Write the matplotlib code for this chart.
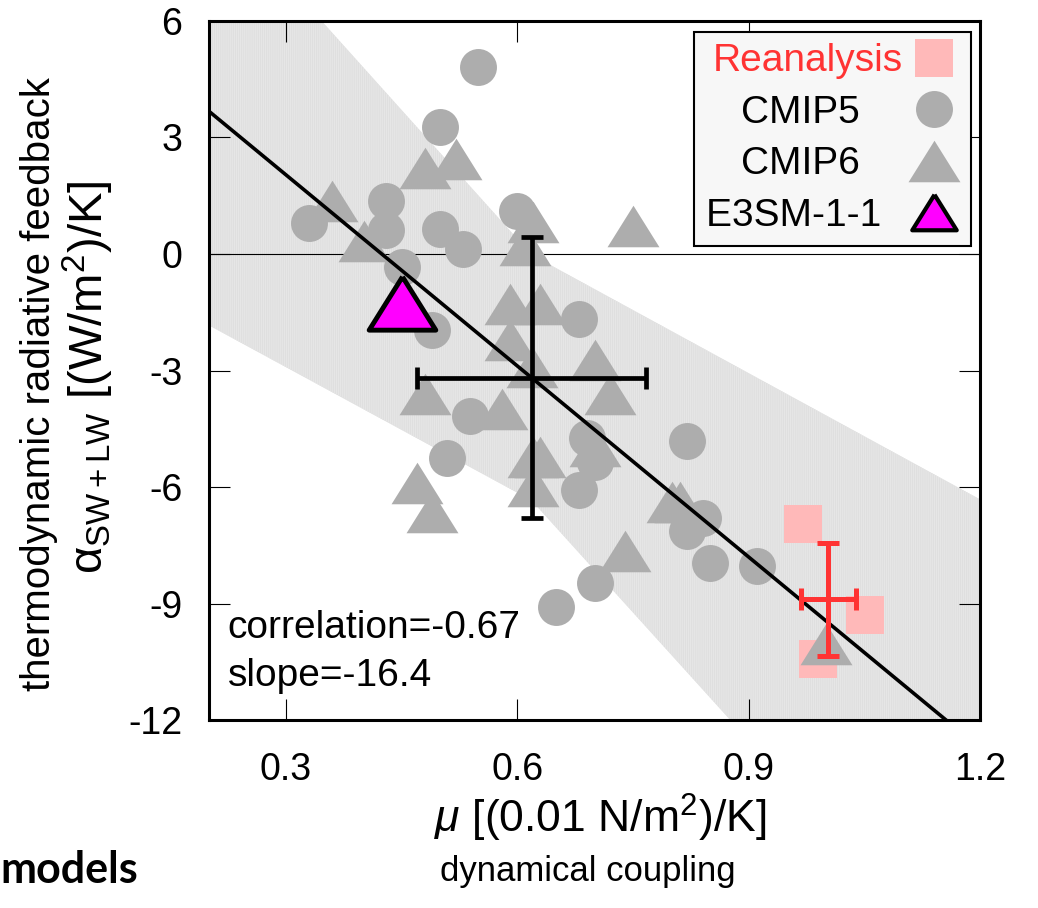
import numpy as np
import matplotlib
matplotlib.use("Agg")
import matplotlib.pyplot as plt
from matplotlib.lines import Line2D
from matplotlib.markers import MarkerStyle

plt.rcParams["font.family"] = ["Liberation Sans", "DejaVu Sans"]
plt.rcParams["mathtext.fontset"] = "custom"
plt.rcParams["mathtext.rm"] = "Liberation Sans"
plt.rcParams["mathtext.it"] = "Liberation Sans:italic"
plt.rcParams["axes.unicode_minus"] = False
plt.rcParams["hatch.linewidth"] = 1.0

# CMIP5 models (circles): mu, alpha
cmip5_mu = [0.549, 0.500, 0.430, 0.330, 0.430, 0.500, 0.530, 0.600, 0.450,
            0.489, 0.680, 0.539, 0.509, 0.690, 0.701, 0.680, 0.701, 0.650,
            0.820, 0.841, 0.820, 0.850, 0.910]
cmip5_alpha = [4.80, 3.26, 1.36, 0.80, 0.62, 0.63, 0.12, 1.11, -0.33,
               -1.95, -1.68, -4.16, -5.25, -4.74, -5.34, -6.07, -8.47, -9.07,
               -4.80, -6.80, -7.12, -7.94, -8.02]

# CMIP6 models (triangles)
cmip6_mu = [0.360, 0.401, 0.480, 0.521, 0.620, 0.610, 0.750, 0.590, 0.630,
            0.590, 0.619, 0.701, 0.480, 0.720, 0.580, 0.620, 0.629, 0.701,
            0.620, 0.470, 0.490, 0.800, 0.811, 0.740, 1.000]
cmip6_alpha = [1.37, 0.34, 2.22, 2.45, 0.83, 0.23, 0.73, -1.29, -1.29,
               -2.22, -2.92, -2.74, -3.60, -3.60, -3.98, -5.22, -5.22, -4.95,
               -5.98, -5.90, -6.63, -6.38, -6.38, -7.65, -10.03]

# E3SM-1-1
e3sm_mu = [0.450]
e3sm_alpha = [-1.25]

# Reanalysis (squares) and their mean +/- spread
rean_mu = [0.970, 1.050, 0.990]
rean_alpha = [-6.94, -9.28, -10.43]
rean_mean = (1.003, -8.88)
rean_err = (0.036, 1.45)

# multi-model mean +/- spread
mmm_mean = (0.6185, -3.18)
mmm_err = (0.148, 3.62)

# regression fit and its uncertainty band (edges)
reg_slope = -16.4
reg_intercept = 6.96
reg_r = -0.67
band_x = [0.2, 0.6185, 1.2]
band_upper = [9.23, -0.02, -6.32]
band_lower = [-1.83, -6.34, -19.1]

legend_labels = ["Reanalysis", "CMIP5    ", "CMIP6    ", "E3SM-1-1  "]

GRAY = "#adadad"
PINK = "#ffb9b9"
RED = "#ff3333"

tri = MarkerStyle([(0, 0.8), (-1, -0.8), (1, -0.8), (0, 0.8)], joinstyle="miter")

fig = plt.figure(figsize=(10.38, 9.08), dpi=100)
ax = fig.add_axes([0.2009, 0.2065, 0.7437, 0.7707])

ax.fill_between(band_x, band_lower, band_upper, facecolor="#dcdcdc",
                edgecolor="#e6e6e6", hatch="||||||||", linewidth=0, zorder=1)
ax.axhline(0, color="k", lw=0.8, zorder=2)

ax.plot(rean_mu, rean_alpha, ls="none", marker="s", ms=27, mfc=PINK, mew=0, zorder=3)
ax.plot(cmip5_mu, cmip5_alpha, ls="none", marker="o", ms=26.6, mfc=GRAY, mew=0, zorder=4)
ax.plot(cmip6_mu, cmip6_alpha, ls="none", marker=tri, ms=37.4, mfc=GRAY, mew=0, zorder=5)

xfit = np.array([0.2, 1.2])
ax.plot(xfit, reg_intercept + reg_slope * xfit, color="k", lw=2.6, zorder=6)

ax.plot(e3sm_mu, e3sm_alpha, ls="none", marker=tri, ms=48, mfc="#ff00ff",
        mec="k", mew=3.5, zorder=7)

ax.errorbar(*mmm_mean, xerr=mmm_err[0], yerr=mmm_err[1], color="k", lw=3.4,
            capsize=8, capthick=3.4, zorder=8)
ax.errorbar(*rean_mean, xerr=rean_err[0], yerr=rean_err[1], color=RED, lw=3.6,
            capsize=8, capthick=3.6, zorder=8)

ax.text(0.225, -9.87, f"correlation={reg_r}", fontsize=28, va="baseline", zorder=9)
ax.text(0.225, -11.12, f"slope={reg_slope}", fontsize=28, va="baseline", zorder=9)

ax.set_xlim(0.2, 1.2)
ax.set_ylim(-12, 6)
ax.set_xticks([0.3, 0.6, 0.9, 1.2])
ax.set_xticklabels(["0.3", "0.6", "0.9", "1.2"])
ax.set_yticks([-12, -9, -6, -3, 0, 3, 6])
ax.tick_params(direction="in", length=15, width=0.8, labelsize=27,
               top=True, right=True)
ax.tick_params(axis="x", pad=23)
ax.tick_params(axis="y", pad=19)
for sp in ax.spines.values():
    sp.set_linewidth(2.2)

handles = [
    Line2D([], [], ls="none", marker="s", ms=27, mfc=PINK, mew=0),
    Line2D([], [], ls="none", marker="o", ms=26.6, mfc=GRAY, mew=0),
    Line2D([], [], ls="none", marker=tri, ms=37.4, mfc=GRAY, mew=0),
    Line2D([], [], ls="none", marker=tri, ms=32, mfc="#ff00ff", mec="k", mew=3),
]
leg = ax.legend(handles, legend_labels, loc="upper right", bbox_to_anchor=(0.9873, 0.9843),
                borderaxespad=0, markerfirst=False, fontsize=28, fancybox=False,
                edgecolor="k", facecolor="#f7f7f7", framealpha=1,
                handlelength=1.3, handletextpad=0.15, labelspacing=0.4, borderpad=0.3)
leg.get_frame().set_linewidth(1.5)
leg.get_texts()[0].set_color(RED)
leg.set_zorder(20)

fig.text(0.0375, 0.577, "thermodynamic radiative feedback", rotation=90,
         fontsize=29, ha="center", va="center")
fig.text(0.0848, 0.585, r"α$_{\rm SW+LW}$ [(W/m$^2$)/K]", rotation=90,
         fontsize=34, ha="center", va="center")
fig.text(0.578, 0.099, r"$\mu$ [(0.01 N/m$^2$)/K]", fontsize=32, ha="center", va="center")
fig.text(0.566, 0.040, "dynamical coupling", fontsize=25, ha="center", va="center")
fig.text(0.0, 0.0275, "models", fontsize=31, fontweight="bold", family="Lato",
         ha="left", va="baseline")

fig.savefig("out.png", dpi=100)
